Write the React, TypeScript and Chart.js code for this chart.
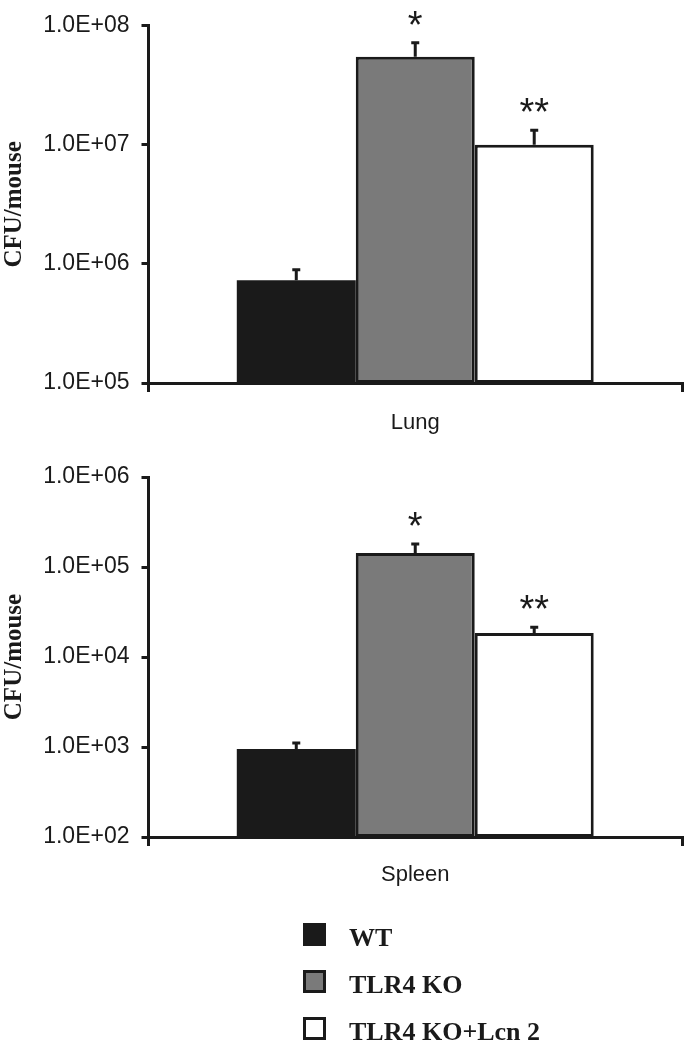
import React, { useEffect, useRef } from "react";
import { Chart, registerables } from "chart.js";

Chart.register(...registerables);

// ---------- data ----------
const groups = ["WT", "TLR4 KO", "TLR4 KO+Lcn 2"];
const lungCategory = ["Lung"];
const spleenCategory = ["Spleen"];
const lungValues = [7.3e5, 5.5e7, 1.0e7];
const lungErrorTops = [9.1e5, 7.35e7, 1.35e7];
const spleenValues = [950, 1.43e5, 1.85e4];
const spleenErrorTops = [1140, 1.85e5, 2.2e4];
const lungMarks = ["", "*", "**"];
const spleenMarks = ["", "*", "**"];
const lungTickValues = [1e5, 1e6, 1e7, 1e8];
const lungTickLabels = ["1.0E+05", "1.0E+06", "1.0E+07", "1.0E+08"];
const spleenTickValues = [1e2, 1e3, 1e4, 1e5, 1e6];
const spleenTickLabels = ["1.0E+02", "1.0E+03", "1.0E+04", "1.0E+05", "1.0E+06"];
const yTitle = "CFU/mouse";

// ---------- style ----------
const INK = "#1a1a1a";
const fills = ["#1a1a1a", "#7a7a7a", "#ffffff"];
const borderWidths = [0, 3, 3];
const SANS = "'Liberation Sans', Arial, sans-serif";
const SERIF = "'Liberation Serif', 'Times New Roman', serif";

const errorBarPlugin = {
  id: "errorBars",
  afterDatasetsDraw(chart: any) {
    const ctx = chart.ctx;
    const y = chart.scales.y;
    const errs: number[] = chart.options.plugins.errorBars.tops;
    const marks: string[] = chart.options.plugins.errorBars.marks;
    ctx.save();
    ctx.strokeStyle = INK;
    ctx.fillStyle = INK;
    ctx.lineWidth = 3;
    chart.data.datasets.forEach((_: any, i: number) => {
      const bar = chart.getDatasetMeta(i).data[0];
      const x = bar.x;
      const yt = y.getPixelForValue(errs[i]);
      ctx.beginPath();
      ctx.moveTo(x, bar.y);
      ctx.lineTo(x, yt);
      ctx.moveTo(x - 4, yt + 1);
      ctx.lineTo(x + 4, yt + 1);
      ctx.stroke();
      if (marks[i]) {
        ctx.font = `38px ${SANS}`;
        ctx.textAlign = "center";
        ctx.textBaseline = "alphabetic";
        ctx.fillText(marks[i], x, yt - 4);
      }
    });
    ctx.restore();
  },
};

const legendPlugin = {
  id: "sideLegend",
  afterDraw(chart: any) {
    const opts = chart.options.plugins.sideLegend;
    if (!opts || !opts.show) return;
    const ctx = chart.ctx;
    ctx.save();
    chart.data.datasets.forEach((ds: any, i: number) => {
      const by = opts.top + i * opts.step;
      const bx = opts.left;
      const s = 23;
      ctx.fillStyle = INK;
      ctx.fillRect(bx, by, s, s);
      if (i > 0) {
        ctx.fillStyle = ds.backgroundColor;
        ctx.fillRect(bx + 3, by + 3, s - 6, s - 6);
      }
      ctx.fillStyle = INK;
      ctx.font = `bold 26px ${SERIF}`;
      ctx.textAlign = "left";
      ctx.textBaseline = "alphabetic";
      ctx.fillText(ds.label, bx + 46, by + s);
    });
    ctx.restore();
  },
};

function makeConfig(
  category: string[],
  values: number[],
  errs: number[],
  marks: string[],
  tickValues: number[],
  tickLabels: string[],
  canvasH: number,
  areaTop: number,
  areaBottom: number,
  tickPad: number,
  legend: any
): any {
  return {
    type: "bar",
    data: {
      labels: category,
      datasets: groups.map((g, i) => ({
        label: g,
        data: [values[i]],
        backgroundColor: fills[i],
        borderColor: INK,
        borderWidth: borderWidths[i],
        borderSkipped: false,
        categoryPercentage: 0.669,
        barPercentage: 1.0,
      })),
    },
    options: {
      animation: false,
      responsive: false,
      maintainAspectRatio: false,
      layout: { padding: { left: 0, right: 10, top: areaTop, bottom: 0 } },
      plugins: {
        legend: { display: false },
        tooltip: { enabled: false },
        title: { display: false },
        errorBars: { tops: errs, marks },
        sideLegend: legend,
      },
      scales: {
        x: {
          type: "category",
          grid: {
            offset: true,
            drawOnChartArea: false,
            drawTicks: true,
            tickLength: 9,
            tickWidth: 3,
            color: INK,
            lineWidth: 3,
          },
          border: { display: true, color: INK, width: 3 },
          ticks: {
            color: INK,
            font: { family: SANS, size: 22 },
            padding: tickPad,
          },
          afterFit: (s: any) => {
            s.height = canvasH - areaBottom;
          },
        },
        y: {
          type: "logarithmic",
          min: tickValues[0],
          max: tickValues[tickValues.length - 1],
          grid: {
            drawOnChartArea: false,
            drawTicks: true,
            tickLength: 7,
            tickWidth: 3,
            color: INK,
            lineWidth: 3,
          },
          border: { display: true, color: INK, width: 3 },
          afterBuildTicks: (s: any) => {
            s.ticks = tickValues.map((v) => ({ value: v }));
          },
          ticks: {
            color: INK,
            font: { family: SANS, size: 23 },
            padding: 12,
            autoSkip: false,
            callback: (v: number) => {
              const idx = tickValues.findIndex((t) => Math.abs(t - v) / t < 1e-6);
              return idx >= 0 ? tickLabels[idx] : "";
            },
          },
          title: {
            display: true,
            text: yTitle,
            color: INK,
            font: { family: SERIF, size: 25, weight: "bold" },
            padding: 0,
          },
          afterFit: (s: any) => {
            s.width = 148.5;
          },
        },
      },
    },
    plugins: [errorBarPlugin, legendPlugin],
  };
}

function BarChart(props: { config: any; width: number; height: number; top: number }) {
  const ref = useRef<HTMLCanvasElement | null>(null);
  useEffect(() => {
    if (!ref.current) return;
    const chart = new Chart(ref.current, props.config);
    return () => chart.destroy();
  }, []);
  return (
    <canvas
      ref={ref}
      width={props.width}
      height={props.height}
      style={{ position: "absolute", left: 0, top: props.top, width: props.width, height: props.height, display: "block" }}
    />
  );
}

export default function App() {
  const lungCfg = makeConfig(
    lungCategory, lungValues, lungErrorTops, lungMarks,
    lungTickValues, lungTickLabels, 450, 24, 383, 18, { show: false }
  );
  const spleenCfg = makeConfig(
    spleenCategory, spleenValues, spleenErrorTops, spleenMarks,
    spleenTickValues, spleenTickLabels, 600, 27, 387, 16,
    { show: true, left: 303, top: 473, step: 47 }
  );
  return (
    <div style={{ position: "absolute", left: 0, top: 0, width: 692, height: 1050, background: "#fff" }}>
      <BarChart config={lungCfg} width={692} height={450} top={0} />
      <BarChart config={spleenCfg} width={692} height={600} top={450} />
    </div>
  );
}
